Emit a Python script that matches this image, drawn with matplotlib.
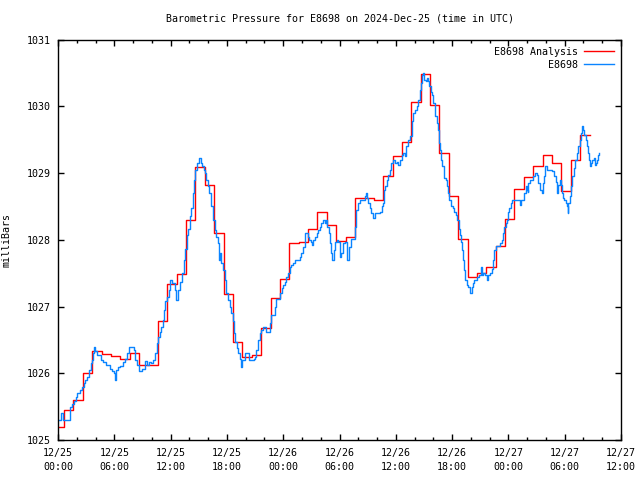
import matplotlib
matplotlib.use("Agg")
import matplotlib.pyplot as plt
import numpy as np

# Analysis: hourly values, step boundaries at (k - 0.35) hours after 12/25 00:00
analysis_start = -0.35
analysis_vals = [
    1025.2, 1025.45, 1025.6, 1026.0, 1026.33, 1026.29, 1026.26, 1026.22, 1026.31, 1026.13,
    1026.13, 1026.78, 1027.34, 1027.49, 1028.3, 1029.09, 1028.82, 1028.1, 1027.19, 1026.47,
    1026.25, 1026.28, 1026.68, 1027.13, 1027.41, 1027.95, 1027.97, 1028.17, 1028.42, 1028.22,
    1027.98, 1028.04, 1028.63, 1028.63, 1028.6, 1028.95, 1029.25, 1029.46, 1030.07, 1030.48,
    1030.02, 1029.3, 1028.66, 1028.01, 1027.44, 1027.5, 1027.6, 1027.91, 1028.31, 1028.76,
    1028.94, 1029.1, 1029.27, 1029.15, 1028.73, 1029.2, 1029.57,
]

# Station observations: hours after 12/25 00:00 UTC and pressure (mb)
obs_hours = [
    0.00, 0.36, 0.55, 1.25, 1.32, 1.49, 1.67, 1.89, 2.07, 2.35, 2.60, 2.77, 2.92, 3.09, 3.30,
    3.49, 3.62, 3.73, 3.84, 3.99, 4.16, 4.63, 4.80, 5.16, 5.51, 5.80, 5.97, 6.08, 6.23, 6.40,
    6.65, 6.93, 7.19, 7.40, 7.54,
    8.00, 8.10, 8.25, 8.46, 8.60, 8.96, 9.24, 9.46, 9.67, 9.96, 10.13, 10.31, 10.55, 10.66,
    10.84, 11.02, 11.19, 11.30, 11.45, 11.62, 11.80, 11.98, 12.20, 12.44, 12.55, 12.79, 12.97,
    13.22, 13.43, 13.58, 13.72, 13.86, 14.04, 14.22, 14.39, 14.50, 14.65, 14.86, 15.00,
    15.21, 15.35, 15.53, 15.67, 15.82, 15.96, 16.12, 16.35, 16.52, 16.71, 16.89, 17.03, 17.13,
    17.24, 17.38, 17.59, 17.77, 17.95, 18.12, 18.30, 18.46, 18.62, 18.73, 18.91, 19.08, 19.21,
    19.37, 19.55, 19.64, 19.90, 20.22, 20.36, 20.90, 21.02, 21.15, 21.32, 21.50, 21.68, 21.86,
    22.04, 22.22, 22.39, 22.57, 22.75, 23.10, 23.28, 23.64, 23.82, 23.99, 24.17, 24.35, 24.52,
    24.70, 24.88, 25.05, 25.23, 25.84, 25.95, 26.12, 26.30, 26.37, 26.59, 26.76, 26.94, 27.08,
    27.19, 27.37, 27.55, 27.72, 27.90, 28.08, 28.25, 28.43, 28.61, 28.72, 28.86, 28.97, 29.07,
    29.25, 29.39, 29.57, 29.74, 29.85, 30.03, 30.21, 30.38, 30.57, 30.75, 30.85, 30.99, 31.20,
    31.56, 31.66, 31.71, 31.81, 31.98, 32.16, 32.52, 32.70, 32.80, 32.94, 33.05, 33.23, 33.41,
    33.58, 33.76, 34.30, 34.48, 34.65, 34.75, 34.90, 35.01, 35.18, 35.36, 35.54, 35.71, 35.90,
    36.08, 36.25, 36.43, 36.61, 36.78, 36.96, 37.14, 37.31, 37.49, 37.68, 37.85, 38.03, 38.21,
    38.38, 38.56, 38.67, 38.81, 38.91, 39.02, 39.17, 39.31, 39.45, 39.55, 39.70, 39.81, 39.98,
    40.16, 40.34, 40.51, 40.62, 40.69, 40.80, 40.94, 41.12, 41.33, 41.47, 41.58, 41.68, 41.87,
    42.05, 42.22, 42.40, 42.54, 42.72, 42.83, 42.93, 43.07, 43.18, 43.28, 43.39, 43.54, 43.71,
    43.92, 44.07, 44.18, 44.35, 44.61, 44.85, 45.06, 45.14, 45.31, 45.49, 45.67, 45.84, 46.02,
    46.20, 46.31, 46.37, 46.48, 46.63, 46.91, 47.09, 47.27, 47.44, 47.55, 47.70, 47.80, 47.91,
    47.97, 48.08, 48.23, 48.34, 48.79, 49.22, 49.33, 49.54, 49.68, 49.83, 49.94, 50.04, 50.11,
    50.29, 50.64, 50.82, 51.00, 51.17, 51.35, 51.54, 51.71, 51.81, 51.89, 52.07, 52.60, 52.88,
    53.03, 53.13, 53.20, 53.30, 53.49, 53.59, 53.73, 53.84, 53.94, 54.09, 54.20, 54.31, 54.37,
    54.55, 54.66, 54.80, 54.95, 55.09, 55.27, 55.44, 55.62, 55.73, 55.86, 55.97, 56.08, 56.23,
    56.33, 56.44, 56.55, 56.65, 56.79, 56.93, 57.11, 57.22, 57.29, 57.40, 57.57, 57.68,
]
obs_vals = [
    1025.3, 1025.4, 1025.3, 1025.4, 1025.49, 1025.54, 1025.59, 1025.65, 1025.7, 1025.75, 1025.8,
    1025.85, 1025.9, 1025.95, 1026.05, 1026.15, 1026.2, 1026.3, 1026.4, 1026.33, 1026.27, 1026.2,
    1026.17, 1026.12, 1026.07, 1026.03, 1026.0, 1025.9, 1026.05, 1026.1, 1026.11, 1026.17,
    1026.22, 1026.3, 1026.4,
    1026.4, 1026.35, 1026.2, 1026.12, 1026.03, 1026.07, 1026.19, 1026.12, 1026.17, 1026.15,
    1026.2, 1026.3, 1026.45, 1026.55, 1026.62, 1026.7, 1026.8, 1026.95, 1027.08, 1027.15,
    1027.25, 1027.4, 1027.35, 1027.25, 1027.1, 1027.25, 1027.37, 1027.5, 1027.7, 1027.87,
    1028.07, 1028.17, 1028.35, 1028.47, 1028.7, 1028.9, 1029.05, 1029.15, 1029.22,
    1029.15, 1029.1, 1029.05, 1029.0, 1028.9, 1028.8, 1028.7, 1028.5, 1028.3, 1028.15, 1028.05,
    1027.95, 1027.7, 1027.8, 1027.65, 1027.55, 1027.4, 1027.2, 1027.1, 1027.0, 1026.9, 1026.78,
    1026.6, 1026.47, 1026.38, 1026.3, 1026.22, 1026.1, 1026.2, 1026.3, 1026.3, 1026.2, 1026.22,
    1026.25, 1026.35, 1026.5, 1026.6, 1026.65, 1026.7, 1026.7, 1026.62, 1026.62, 1026.75,
    1026.87, 1027.0, 1027.12, 1027.2, 1027.28, 1027.32, 1027.37, 1027.45, 1027.5, 1027.6,
    1027.62, 1027.65, 1027.7, 1027.75, 1027.8, 1027.9, 1028.0, 1028.1, 1028.05, 1028.0, 1027.97,
    1027.92, 1028.0, 1028.05, 1028.1, 1028.15, 1028.2, 1028.25, 1028.3, 1028.25, 1028.3,
    1028.2, 1028.1, 1027.95, 1027.8, 1027.7, 1027.85, 1027.97, 1028.0, 1027.97, 1027.75,
    1027.8, 1027.95, 1027.97, 1027.9, 1027.7, 1027.9, 1028.02, 1028.02, 1028.2, 1028.4,
    1028.45, 1028.55, 1028.6, 1028.6, 1028.65, 1028.7, 1028.62, 1028.55, 1028.47, 1028.4,
    1028.33, 1028.4, 1028.42, 1028.5, 1028.55, 1028.75, 1028.8, 1028.9, 1028.97, 1029.05,
    1029.15, 1029.2, 1029.15, 1029.17, 1029.12, 1029.2, 1029.27, 1029.3, 1029.25, 1029.4,
    1029.5, 1029.55, 1029.78, 1029.9, 1029.95, 1030.0, 1030.1, 1030.25, 1030.35, 1030.47,
    1030.5, 1030.4, 1030.38, 1030.43, 1030.38, 1030.3, 1030.22, 1030.17, 1030.05, 1029.85,
    1029.75, 1029.65, 1029.45, 1029.35, 1029.2, 1029.1, 1028.92, 1028.9, 1028.8, 1028.7,
    1028.6, 1028.5, 1028.48, 1028.42, 1028.37, 1028.3, 1028.17, 1028.07, 1027.97, 1027.85,
    1027.7, 1027.55, 1027.4, 1027.32, 1027.3, 1027.2, 1027.3, 1027.35, 1027.4, 1027.45,
    1027.47, 1027.6, 1027.47, 1027.5, 1027.47, 1027.4, 1027.47, 1027.5, 1027.57, 1027.65,
    1027.7, 1027.85, 1027.91, 1027.91, 1027.95, 1028.0, 1028.1, 1028.2, 1028.25, 1028.3,
    1028.37, 1028.42, 1028.47, 1028.55, 1028.6, 1028.6, 1028.52, 1028.6, 1028.6, 1028.7,
    1028.8, 1028.75, 1028.72, 1028.85, 1028.9, 1028.95, 1029.0, 1028.97, 1028.85, 1028.75,
    1028.7, 1028.85, 1028.95, 1029.1, 1029.05, 1029.03, 1028.95, 1028.87, 1028.77, 1028.7,
    1028.82, 1028.9, 1028.82, 1028.7, 1028.62, 1028.6, 1028.55, 1028.5, 1028.4, 1028.55,
    1028.65, 1028.8, 1028.95, 1029.07, 1029.2, 1029.3, 1029.4, 1029.5, 1029.6, 1029.7,
    1029.65, 1029.57, 1029.5, 1029.4, 1029.3, 1029.2, 1029.11, 1029.15, 1029.2, 1029.22,
    1029.12, 1029.15, 1029.2, 1029.27, 1029.3,
]

tick_hours = list(range(0, 61, 6))
tick_labels = ["12/%d\n%02d:00" % (25 + h // 24, h % 24) for h in tick_hours]
y_ticks = [1025, 1026, 1027, 1028, 1029, 1030, 1031]

FONT = "DejaVu Sans Mono"
FS = 7.2

fig = plt.figure(figsize=(6.4, 4.8), dpi=100)
ax = fig.add_axes([58 / 640, 1 - 440 / 480, (621 - 58) / 640, (440 - 39.7) / 480])

a_t = np.arange(len(analysis_vals)) + analysis_start
a_t = np.append(a_t, a_t[-1] + 1)
a_v = np.append(analysis_vals, analysis_vals[-1])
ax.plot(a_t, a_v, drawstyle="steps-post", color="#ff0000", lw=1.0, label="E8698 Analysis")
ax.plot(obs_hours, obs_vals, drawstyle="steps-post", color="#0a84ff", lw=1.0, label="E8698")

ax.set_xlim(0, 60)
ax.set_ylim(1025, 1031)
ax.set_xticks(tick_hours)
ax.set_xticklabels(tick_labels, fontfamily=FONT, fontsize=FS)
for lbl in ax.get_xticklabels():
    lbl.set_linespacing(1.5)
ax.set_xticks(range(0, 61, 2), minor=True)
ax.set_yticks(y_ticks)
ax.set_yticklabels([str(v) for v in y_ticks], fontfamily=FONT, fontsize=FS)
ax.tick_params(axis="both", which="major", direction="in", length=4, width=1,
               top=True, right=True)
ax.tick_params(axis="x", which="major", pad=6)
ax.tick_params(axis="y", which="major", pad=5)
ax.tick_params(axis="x", which="minor", direction="in", length=2.5, width=1,
               top=True, bottom=True)
ax.tick_params(axis="y", which="minor", left=False, right=False)
for s in ax.spines.values():
    s.set_linewidth(1.0)

ax.set_title("Barometric Pressure for E8698 on 2024-Dec-25 (time in UTC)",
             fontfamily=FONT, fontsize=FS, pad=13)
ax.set_ylabel("milliBars", fontfamily=FONT, fontsize=FS)
ax.yaxis.set_label_coords(-0.082, 0.5)

leg = ax.legend(loc="upper right", frameon=False, markerfirst=False,
                prop={"family": FONT, "size": FS}, handlelength=3.0,
                handletextpad=0.6, borderaxespad=0.3, labelspacing=0.3)
for t in leg.get_texts():
    t.set_ha("right")

fig.savefig("out.png", dpi=100)
